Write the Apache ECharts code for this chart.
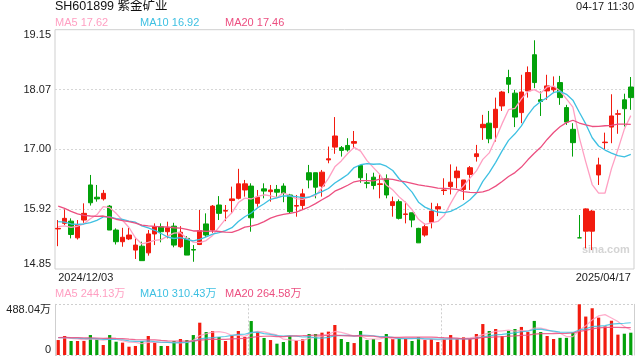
<!DOCTYPE html>
<html><head><meta charset="utf-8">
<script src="https://cdn.jsdelivr.net/npm/echarts@6/dist/echarts.min.js"></script>
<style>html,body{margin:0;padding:0;background:#fff}#c{width:640px;height:360px}</style>
</head><body><div id="c"></div>
<script>
const dates = [
'2024/12/03','2024/12/04','2024/12/05','2024/12/06','2024/12/09','2024/12/10','2024/12/11','2024/12/12','2024/12/13','2024/12/16',
'2024/12/17','2024/12/18','2024/12/19','2024/12/20','2024/12/23','2024/12/24','2024/12/25','2024/12/26','2024/12/27','2024/12/30',
'2024/12/31','2025/01/02','2025/01/03','2025/01/06','2025/01/07','2025/01/08','2025/01/09','2025/01/10','2025/01/13','2025/01/14',
'2025/01/15','2025/01/16','2025/01/17','2025/01/20','2025/01/21','2025/01/22','2025/01/23','2025/01/24','2025/01/27','2025/02/05',
'2025/02/06','2025/02/07','2025/02/10','2025/02/11','2025/02/12','2025/02/13','2025/02/14','2025/02/17','2025/02/18','2025/02/19',
'2025/02/20','2025/02/21','2025/02/24','2025/02/25','2025/02/26','2025/02/27','2025/02/28','2025/03/03','2025/03/04','2025/03/05',
'2025/03/06','2025/03/07','2025/03/10','2025/03/11','2025/03/12','2025/03/13','2025/03/14','2025/03/17','2025/03/18','2025/03/19',
'2025/03/20','2025/03/21','2025/03/24','2025/03/25','2025/03/26','2025/03/27','2025/03/28','2025/03/31','2025/04/01','2025/04/02',
'2025/04/03','2025/04/07','2025/04/08','2025/04/09','2025/04/10','2025/04/11','2025/04/14','2025/04/15','2025/04/16','2025/04/17'];

const opens = [
15.57,15.67,15.71,15.41,15.73,16.36,16.14,16.11,15.98,15.55,
15.34,15.39,15.19,15.26,15.14,15.48,15.61,15.52,15.62,15.25,
15.40,15.20,15.29,15.66,15.55,16.00,15.89,16.08,16.12,16.27,
16.34,16.03,16.29,16.24,16.28,16.34,16.18,15.98,15.99,16.58,
16.58,16.34,16.81,17.04,17.03,17.07,17.11,16.71,16.40,16.50,
16.37,16.47,15.99,16.06,15.83,15.86,15.58,15.46,15.69,15.93,
16.26,16.33,16.49,16.28,16.55,16.87,17.39,17.47,17.39,17.78,
18.29,18.01,17.66,18.05,18.70,17.89,18.05,18.07,18.20,17.75,
17.36,15.41,15.53,15.53,16.54,17.12,17.40,17.63,17.89,18.12];
const closes = [
15.58,15.76,15.47,15.65,15.85,16.04,16.11,16.21,15.55,15.34,
15.42,15.46,15.28,15.00,15.48,15.61,15.52,15.59,15.28,15.51,
15.10,15.19,15.54,15.46,15.98,15.85,15.90,16.11,16.38,16.38,
15.77,16.14,16.25,16.27,16.23,16.21,15.88,15.99,16.20,16.45,
16.32,16.59,16.83,17.24,16.98,16.99,17.14,16.49,16.39,16.35,
16.38,16.18,16.06,15.76,15.84,15.73,15.32,15.61,15.89,15.97,
16.27,16.41,16.61,16.45,16.67,16.92,17.45,17.19,17.72,18.03,
18.17,17.58,18.03,18.38,18.20,17.86,18.14,18.11,17.93,17.49,
17.12,15.41,15.93,15.89,16.72,17.13,17.60,17.64,17.73,17.93];
const lows = [
15.26,15.64,15.40,15.38,15.68,15.99,16.06,16.08,15.55,15.29,
15.25,15.37,15.03,15.00,15.09,15.28,15.33,15.40,15.24,15.23,
15.10,14.98,15.28,15.43,15.50,15.73,15.71,15.85,16.10,16.15,
15.52,15.97,16.12,16.06,16.15,16.05,15.85,15.79,15.91,16.30,
16.12,16.15,16.75,16.92,16.87,16.96,17.02,16.40,16.30,16.28,
16.12,16.12,15.79,15.74,15.67,15.60,15.32,15.43,15.58,15.80,
16.18,16.19,16.30,16.09,16.27,16.78,17.17,17.11,17.14,17.69,
18.01,17.40,17.47,17.93,18.10,17.60,17.89,18.01,17.80,17.44,
16.87,15.41,15.22,15.19,16.36,16.99,17.11,17.28,17.41,17.71];
const highs = [
15.73,15.92,15.76,15.73,16.03,16.54,16.36,16.27,16.00,15.58,
15.59,15.59,15.40,15.34,15.55,15.67,15.67,15.70,15.68,15.62,
15.44,15.28,15.91,15.85,16.00,16.16,16.00,16.33,16.65,16.45,
16.39,16.27,16.39,16.36,16.36,16.39,16.20,16.18,16.29,16.72,
16.58,16.63,17.05,17.58,17.06,17.20,17.33,16.72,16.57,16.58,
16.55,16.55,16.15,16.10,16.06,15.86,15.59,15.67,16.04,16.03,
16.48,16.73,16.69,16.45,16.70,17.08,17.62,17.69,17.93,18.05,
18.43,18.07,18.34,18.49,18.96,18.04,18.34,18.31,18.32,17.80,
17.47,15.82,15.94,15.91,16.85,17.30,17.99,17.71,18.00,18.30];
// volumes in 万手
const volumes = [
144,183,135,135,135,192,151,96,192,128,
119,80,87,135,183,119,87,87,135,154,
144,192,311,221,231,173,135,186,231,173,
327,221,164,144,109,125,183,138,151,202,
202,215,225,289,154,125,115,231,144,154,
125,202,154,164,154,135,170,144,154,125,
154,192,154,170,154,202,298,231,250,183,
231,250,270,221,328,221,183,154,165,165,
215,488.04,370,450,360,275,330,196,205,214.65];
// sessions before 2024/12/03 (only feed the moving averages)
const priorCloses = [16.62,16.55,16.48,16.40,16.30,16.22,16.10,16.05,15.98,15.90,15.85,15.80,15.72,15.78,15.80,15.70,15.60,15.55,15.63];
const priorVolumes = [150,180,160,175,190,165,170,155,185,160,175,170,165,180,160,175,170,165,172];

const priceTickLabels = ['14.85','15.92','17.00','18.07','19.15'];
const priceMin = 14.85, priceMax = 19.15, priceStep = 1.075;
const volumeMax = 488.04;
const titleText = 'SH601899 紫金矿业';
const timeText = '04-17 11:30';
const priceMALabels = ['MA5 17.62','MA10 16.92','MA20 17.46'];
const volumeMALabels = ['MA5 244.13万','MA10 310.43万','MA20 264.58万'];
const watermarkText = 'sina.com';

const UP = '#f21b0f', DOWN = '#03a10a';
const MA_COLORS = ['#ff9fc2', '#3ec0e2', '#ec4f80'];
const FONT = "'Liberation Sans', Arial, 'Noto Sans CJK SC', sans-serif";

function movingAverage(values, prior, n) {
  const all = prior.concat(values);
  const off = prior.length;
  return values.map((_, i) => {
    const end = off + i, start = end - n + 1;
    if (start < 0) return '-';
    let s = 0; for (let k = start; k <= end; k++) s += all[k];
    return +(s / n).toFixed(3);
  });
}

const candleData = opens.map((o, i) => [o, closes[i], lows[i], highs[i]]);
const volData = volumes.map((v, i) => ({value: v, itemStyle: {color: closes[i] >= opens[i] ? UP : DOWN}}));

const chart = echarts.init(document.getElementById('c'), null, {renderer: 'canvas'});
const labelX = [55, 140, 225];
const titles = [
  {text: titleText, left: 55, top: 0, padding: 0, textStyle: {fontSize: 12.5, fontWeight: 'normal', color: '#111', fontFamily: FONT}},
  {text: timeText, right: 6, top: 1, padding: 0, textStyle: {fontSize: 11, fontWeight: 'normal', color: '#222', fontFamily: FONT}}
];
priceMALabels.forEach((t, k) => titles.push({text: t, left: labelX[k], top: 17.5, padding: 0, textStyle: {fontSize: 11, fontWeight: 'normal', color: MA_COLORS[k], fontFamily: FONT}}));
volumeMALabels.forEach((t, k) => titles.push({text: t, left: labelX[k], top: 288.5, padding: 0, textStyle: {fontSize: 11, fontWeight: 'normal', color: MA_COLORS[k], fontFamily: FONT}}));

const maSeries = [];
[5, 10, 20].forEach((n, k) => {
  maSeries.push({type: 'line', xAxisIndex: 0, yAxisIndex: 0, data: movingAverage(closes, priorCloses, n), symbol: 'none', smooth: false,
    lineStyle: {width: 1.3, color: MA_COLORS[k]}, z: 3, silent: true});
  maSeries.push({type: 'line', xAxisIndex: 1, yAxisIndex: 1, data: movingAverage(volumes, priorVolumes, n), symbol: 'none', smooth: false,
    lineStyle: {width: 1.2, color: MA_COLORS[k], opacity: 0.85}, z: 3, silent: true});
});

chart.setOption({
  animation: false,
  backgroundColor: '#fff',
  textStyle: {fontFamily: FONT},
  title: titles,
  grid: [
    {left: 55, right: 6, top: 29.7, height: 239.3, show: true, borderColor: '#cfcfcf', borderWidth: 1},
    {left: 55, right: 6, top: 304.3, height: 50.7, show: false}
  ],
  xAxis: [
    {type: 'category', gridIndex: 0, data: dates, boundaryGap: true,
      axisLine: {show: false}, axisTick: {show: false}, splitLine: {show: false},
      axisLabel: {show: true, interval: (i) => i === 0 || i === dates.length - 1, color: '#222', fontSize: 11, margin: 3,
        fontFamily: FONT, alignMinLabel: 'left', alignMaxLabel: 'right', showMinLabel: true, showMaxLabel: true}},
    {type: 'category', gridIndex: 1, data: dates, boundaryGap: true,
      axisLine: {show: false}, axisTick: {show: false}, axisLabel: {show: false},
      splitLine: {show: true, interval: (i) => i === 30 || i === 60, lineStyle: {type: [2, 2], color: '#cfcfcf', width: 1}}}
  ],
  yAxis: [
    {type: 'value', gridIndex: 0, min: priceMin, max: priceMax, interval: priceStep, scale: true,
      axisLine: {show: false}, axisTick: {show: false},
      splitLine: {show: true, showMinLine: false, showMaxLine: false, lineStyle: {type: [2, 2], color: '#d6d6d6', width: 1}},
      axisLabel: {color: '#222', fontSize: 11, margin: 4, fontFamily: FONT,
        verticalAlignMinLabel: 'bottom', verticalAlignMaxLabel: 'top',
        formatter: (v) => priceTickLabels[Math.round((v - priceMin) / priceStep)]}},
    {type: 'value', gridIndex: 1, min: 0, max: volumeMax, interval: volumeMax,
      axisLine: {show: true, lineStyle: {color: '#cfcfcf', width: 1}}, axisTick: {show: false},
      splitLine: {show: true, lineStyle: {type: [2, 2], color: '#cfcfcf', width: 1}},
      axisLabel: {color: '#222', fontSize: 11, margin: 4, fontFamily: FONT,
        verticalAlignMinLabel: 'bottom', verticalAlignMaxLabel: 'top',
        formatter: (v) => v === 0 ? '0' : v.toFixed(2) + '万'}},
    {type: 'value', gridIndex: 1, position: 'right', min: 0, max: volumeMax, interval: volumeMax,
      axisLine: {show: true, lineStyle: {color: '#cfcfcf', width: 1}}, axisTick: {show: false},
      splitLine: {show: false}, axisLabel: {show: false}}
  ],
  graphic: [
    {type: 'text', left: 582, top: 244, z: -10, silent: true,
      style: {text: watermarkText, fill: '#d4d4d4', font: "bold 11px 'Liberation Sans', Arial, sans-serif"}}
  ],
  series: [
    {type: 'candlestick', xAxisIndex: 0, yAxisIndex: 0, data: candleData, barWidth: 5,
      itemStyle: {color: UP, color0: DOWN, borderColor: UP, borderColor0: DOWN, borderWidth: 1}, z: 2},
    {type: 'bar', xAxisIndex: 1, yAxisIndex: 1, data: volData, barWidth: 3.2, z: 2}
  ].concat(maSeries)
});
</script></body></html>
